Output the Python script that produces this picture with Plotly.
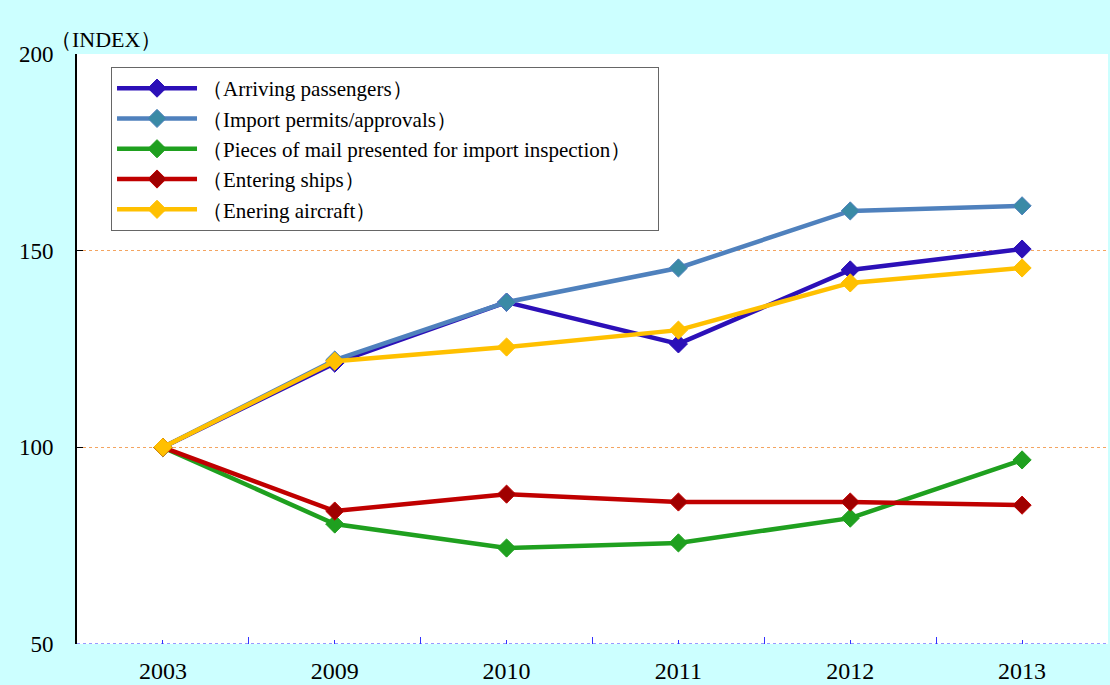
import plotly.graph_objects as go

years = ["2003", "2009", "2010", "2011", "2012", "2013"]
series_names = [
    "（Arriving passengers）",
    "（Import permits/approvals）",
    "（Pieces of mail presented for import inspection）\u00a0\u00a0\u00a0\u00a0",
    "（Entering ships）",
    "（Enering aircraft）",
]
arriving = [100, 121.4, 136.9, 126.3, 145.1, 150.4]
import_permits = [100, 122.2, 136.9, 145.6, 160.1, 161.4]
mail = [100, 80.5, 74.4, 75.7, 82.0, 96.8]
ships = [100, 83.8, 88.1, 86.1, 86.1, 85.3]
aircraft = [100, 121.9, 125.5, 129.8, 141.8, 145.6]
y_ticks = [50, 100, 150, 200]

values = [arriving, import_permits, mail, ships, aircraft]
line_colors = ["#2C10B8", "#4F81BD", "#1FA01F", "#C00000", "#FFC000"]
marker_colors = ["#2C10B8", "#3A8AA6", "#1FA01F", "#A00000", "#FFC000"]

xpos = list(range(len(years)))
FONT = "Liberation Serif, Times New Roman, serif"

fig = go.Figure()
for i, (name, vals) in enumerate(zip(series_names, values)):
    fig.add_trace(go.Scatter(
        x=xpos, y=vals, name=name, mode="lines+markers",
        legendgroup=f"g{i}",
        line=dict(color=line_colors[i], width=4.5),
        marker=dict(symbol="diamond", size=14, color=marker_colors[i],
                    line=dict(color=line_colors[i], width=1)),
    ))

fig.add_shape(type="line", xref="paper", yref="y", x0=0, x1=1, y0=50, y1=50,
              line=dict(color="#3333FF", width=1, dash="dot"), layer="above")

fig.add_annotation(text="（INDEX）", xref="paper", yref="paper", x=-0.028, y=1.0,
                   xanchor="left", yanchor="bottom", showarrow=False,
                   font=dict(family=FONT, size=22, color="black"))

fig.update_layout(
    width=1110, height=685,
    paper_bgcolor="#CCFFFF", plot_bgcolor="white",
    margin=dict(l=77, r=2, t=54, b=41),
    font=dict(family=FONT, color="black"),
    showlegend=True,
    legend=dict(x=0.033, y=0.978, xanchor="left", yanchor="top",
                bgcolor="white", bordercolor="#666666", borderwidth=1,
                font=dict(family=FONT, size=21, color="black"),
                tracegroupgap=14, itemwidth=80, traceorder="normal"),
    xaxis=dict(range=[-0.5, 5.5], tickvals=xpos, ticktext=years,
               showgrid=False, zeroline=False, showline=False,
               ticks="inside", ticklen=4, tickcolor="#3333FF",
               tickfont=dict(family=FONT, size=24, color="black"),
               ticklabelstandoff=10,
               minor=dict(tick0=0.5, dtick=1, ticks="inside", ticklen=7,
                          tickcolor="#3333FF", showgrid=False)),
    yaxis=dict(range=[50, 200], tickvals=y_ticks,
               showgrid=True, gridcolor="#F4A460", griddash="dot", gridwidth=1,
               zeroline=False, showline=True, linecolor="black", linewidth=2,
               ticks="inside", ticklen=6, tickcolor="black",
               tickfont=dict(family=FONT, size=23, color="black"),
               ticklabelstandoff=17),
)

fig.write_html("out.html", config={"displayModeBar": False},
               post_script="document.body.style.margin='0';document.body.style.overflow='hidden';")
